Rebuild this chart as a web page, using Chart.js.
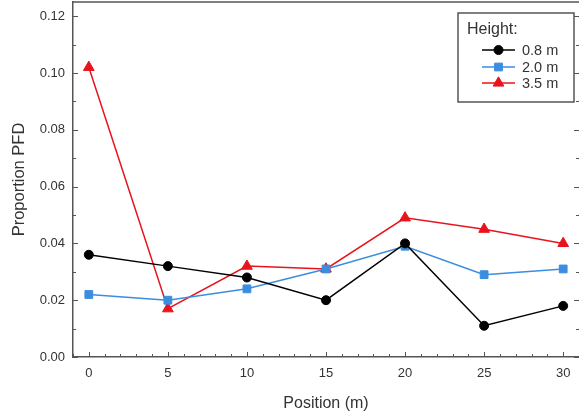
<!DOCTYPE html>
<html>
<head>
<meta charset="utf-8">
<script src="https://cdn.jsdelivr.net/npm/chart.js@4.4.0/dist/chart.umd.min.js"></script>
<style>
  html, body { margin: 0; padding: 0; background: #fff; }
  #wrap { width: 579px; height: 414px; position: relative; }
</style>
</head>
<body>
<div id="wrap"><canvas id="c" width="579" height="414"></canvas></div>
<script>
// ---- data ----
const positions = [0, 5, 10, 15, 20, 25, 30];
const h08 = [0.036, 0.032, 0.028, 0.020, 0.040, 0.011, 0.018];
const h20 = [0.022, 0.020, 0.024, 0.031, 0.039, 0.029, 0.031];
const h35 = [0.102, 0.017, 0.032, 0.031, 0.049, 0.045, 0.040];
const seriesLabels = ['0.8 m', '2.0 m', '3.5 m'];
const legendTitle = 'Height:';
const xTitle = 'Position (m)';
const yTitle = 'Proportion PFD';

const FONT = "'Liberation Sans', Arial, sans-serif";
const AXIS = '#555555';
const TEXT = '#333333';

function pts(vals) { return positions.map((x, i) => ({ x: x, y: vals[i] })); }

const styles = [
  { color: '#000000', pointStyle: 'circle', radius: 4.5 },
  { color: '#3b8de0', pointStyle: 'rect', radius: 5.5 },
  { color: '#e8141c', pointStyle: 'triangle', radius: 6.2 }
];
const seriesValues = [h08, h20, h35];

const datasets = seriesValues.map((vals, i) => ({
  label: seriesLabels[i],
  data: pts(vals),
  borderColor: styles[i].color,
  backgroundColor: styles[i].color,
  borderWidth: 1.5,
  pointStyle: styles[i].pointStyle,
  pointRadius: styles[i].radius,
  pointBorderWidth: 1,
  pointBackgroundColor: styles[i].color,
  pointBorderColor: styles[i].color,
  tension: 0,
  fill: false
}));

function noPad(s) { s.paddingTop = 0; s.paddingBottom = 0; s.paddingLeft = 0; s.paddingRight = 0; }

const framePlugin = {
  id: 'frame',
  afterDraw(chart) {
    const ctx = chart.ctx;
    const a = chart.chartArea;
    const xs = chart.scales.x, ys = chart.scales.y;
    ctx.save();
    ctx.strokeStyle = AXIS;
    ctx.lineWidth = 1.5;
    // top border
    ctx.beginPath();
    ctx.moveTo(a.left, a.top);
    ctx.lineTo(a.right + 2, a.top);
    ctx.stroke();
    ctx.lineWidth = 1;
    // x ticks (inward)
    for (let v = -1; v <= 31; v++) {
      if (v < xs.min || v > xs.max) continue;
      const px = Math.round(xs.getPixelForValue(v)) + 0.5;
      const len = (v % 5 === 0) ? 5 : 3;
      ctx.beginPath();
      ctx.moveTo(px, a.bottom);
      ctx.lineTo(px, a.bottom - len);
      ctx.stroke();
    }
    // y ticks left & right (inward)
    for (let k = 0; k <= 12; k++) {
      const v = k / 100;
      const py = Math.round(ys.getPixelForValue(v)) + 0.5;
      const len = (k % 2 === 0) ? 5 : 3;
      ctx.beginPath();
      ctx.moveTo(a.left, py);
      ctx.lineTo(a.left + len, py);
      ctx.moveTo(a.right, py);
      ctx.lineTo(a.right - len, py);
      ctx.stroke();
    }
    // legend box
    const bx = 458, by = 13, bw = 116, bh = 89;
    ctx.fillStyle = '#ffffff';
    ctx.fillRect(bx, by, bw, bh);
    ctx.strokeStyle = AXIS;
    ctx.lineWidth = 1.5;
    ctx.strokeRect(bx, by, bw, bh);
    ctx.fillStyle = TEXT;
    ctx.textBaseline = 'middle';
    ctx.textAlign = 'left';
    ctx.font = '16px ' + FONT;
    ctx.fillText(legendTitle, 467, 30);
    ctx.font = '14.5px ' + FONT;
    const rowY = [50, 67, 83];
    chart.data.datasets.forEach((ds, i) => {
      const y = rowY[i];
      ctx.strokeStyle = ds.borderColor;
      ctx.lineWidth = 1.5;
      ctx.beginPath();
      ctx.moveTo(482, y);
      ctx.lineTo(515, y);
      ctx.stroke();
      ctx.fillStyle = ds.backgroundColor;
      ctx.strokeStyle = ds.borderColor;
      ctx.lineWidth = 1;
      Chart.helpers.drawPoint(ctx, { pointStyle: ds.pointStyle, radius: ds.pointRadius, rotation: 0, borderWidth: 1 }, 498.5, y);
      ctx.fillStyle = TEXT;
      ctx.fillText(ds.label, 522, y + 0.5);
    });
    ctx.restore();
  }
};

new Chart(document.getElementById('c'), {
  type: 'line',
  data: { datasets: datasets },
  options: {
    responsive: false,
    animation: false,
    devicePixelRatio: 1,
    layout: { autoPadding: false, padding: { top: 2, right: 0, left: 0, bottom: 0 } },
    plugins: { legend: { display: false }, tooltip: { enabled: false } },
    scales: {
      x: {
        type: 'linear',
        min: -1, max: 31,
        afterFit(s) { s.height = 57; noPad(s); },
        afterBuildTicks(s) { s.ticks = positions.map(v => ({ value: v })); },
        ticks: { color: TEXT, font: { family: FONT, size: 13 }, padding: 9, autoSkip: false, maxRotation: 0 },
        grid: { display: true, drawOnChartArea: false, drawTicks: false },
        border: { display: true, color: AXIS, width: 1.5 },
        title: { display: true, text: xTitle, color: TEXT, font: { family: FONT, size: 16 }, padding: { top: 0, bottom: 1 } }
      },
      y: {
        type: 'linear',
        min: 0, max: 0.125,
        afterFit(s) { s.width = 73; noPad(s); },
        afterBuildTicks(s) { const t = []; for (let k = 0; k <= 6; k++) t.push({ value: k * 0.02 }); s.ticks = t; },
        ticks: { color: TEXT, font: { family: FONT, size: 13 }, padding: 8, callback: v => Number(v).toFixed(2) },
        grid: { display: true, drawOnChartArea: false, drawTicks: false },
        border: { display: true, color: AXIS, width: 1.5 },
        title: { display: true, text: yTitle, color: TEXT, font: { family: FONT, size: 16.5 }, padding: { top: 10, bottom: 0 } }
      }
    }
  },
  plugins: [framePlugin]
});
</script>
</body>
</html>
